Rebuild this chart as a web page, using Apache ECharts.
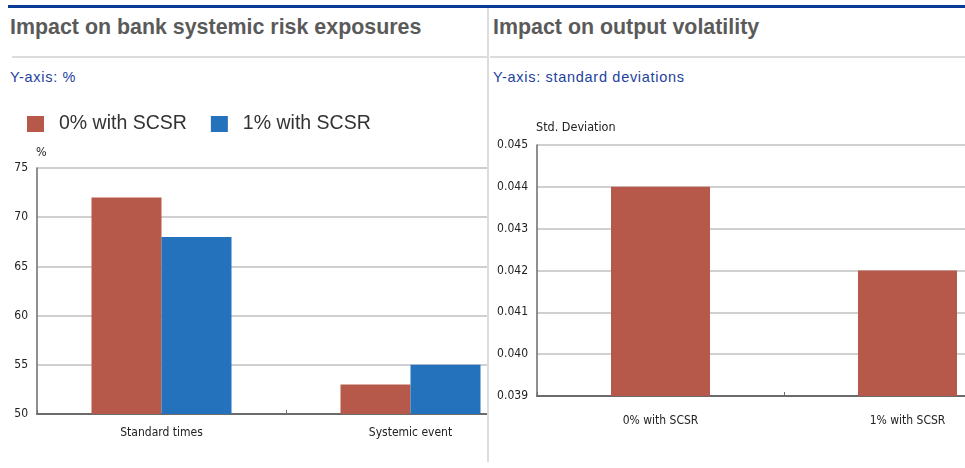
<!DOCTYPE html>
<html>
<head>
<meta charset="utf-8">
<script src="https://cdn.jsdelivr.net/npm/echarts@6/dist/echarts.min.js"></script>
<style>
  body { margin: 0; width: 965px; height: 468px; background: #fff; position: relative; overflow: hidden;
         font-family: "Liberation Sans", Arial, sans-serif; }
  .topline { position: absolute; left: 8px; top: 5px; width: 957px; height: 3px; background: #0b3a96; }
  .divider { position: absolute; left: 487px; top: 8px; width: 2px; height: 454px; background: #dcdcdc; }
  .sep { position: absolute; top: 56px; height: 2px; background: #dcdcdc; }
  .title { position: absolute; top: 15px; font-size: 21.4px; font-weight: bold; color: #5a5a5a; white-space: nowrap; }
  .sub { position: absolute; top: 69px; font-size: 14.5px; letter-spacing: 0.7px; color: #1d3f9e; white-space: nowrap; }
  .panel { position: absolute; top: 90px; height: 378px; overflow: hidden; }
  .chart { width: 560px; height: 378px; }
</style>
</head>
<body>
<div class="topline"></div>
<div class="divider"></div>
<div class="sep" style="left:12px;width:475px"></div>
<div class="sep" style="left:490px;width:475px"></div>
<div class="title" style="left:10px">Impact on bank systemic risk exposures</div>
<div class="title" style="left:493px">Impact on output volatility</div>
<div class="sub" style="left:10px">Y-axis: %</div>
<div class="sub" style="left:493px">Y-axis: standard deviations</div>
<div class="panel" style="left:0;width:487px"><div id="left-chart" class="chart"></div></div>
<div class="panel" style="left:489px;width:476px"><div id="right-chart" class="chart"></div></div>
<script>
// data
const leftCategories = ['Standard times', 'Systemic event'];
const zeroWithSCSR = [72, 53];
const oneWithSCSR = [68, 55];
const rightCategories = ['0% with SCSR', '1% with SCSR'];
const stdDeviation = [0.044, 0.042];

const narrow = '"Liberation Sans Narrow", "DejaVu Sans Condensed", sans-serif';
const red = '#b7594a';
const blue = '#2372bb';

function baseAxes(xMargin) {
  return {
    xAxis: {
      type: 'category',
      axisLine: { lineStyle: { color: '#6b6b6b', width: 2 } },
      axisTick: { show: true, inside: true, length: 4, lineStyle: { color: '#6b6b6b' } },
      axisLabel: { color: '#222', fontSize: 12, fontFamily: narrow, margin: xMargin },
      splitLine: { show: false }
    },
    yAxis: {
      type: 'value',
      nameLocation: 'end',
      nameTextStyle: { color: '#222', fontSize: 12.5, fontFamily: narrow, align: 'left', padding: [0, 0, 0, -1] },
      axisLine: { show: true, lineStyle: { color: '#6b6b6b', width: 1.5 } },
      axisTick: { show: false },
      axisLabel: { color: '#222', fontSize: 12, fontFamily: narrow, margin: 9 },
      splitLine: { lineStyle: { color: '#d0d0d0', width: 2 } }
    }
  };
}

// left: bank systemic risk exposures
let leftChart = echarts.init(document.getElementById('left-chart'));
let la = baseAxes(13);
la.xAxis.data = leftCategories;
Object.assign(la.yAxis, { name: '%', nameGap: 9, min: 50, max: 75, interval: 5 });
leftChart.setOption({
  animation: false,
  grid: { left: 37, top: 78, right: 25, bottom: 54 },
  legend: {
    left: 22, top: 19, itemWidth: 17, itemHeight: 16, itemGap: 24,
    icon: 'rect',
    textStyle: { color: '#333', fontSize: 19.5, padding: [0, 0, 0, 10] },
    data: ['0% with SCSR', '1% with SCSR']
  },
  xAxis: la.xAxis,
  yAxis: la.yAxis,
  series: [
    { name: '0% with SCSR', type: 'bar', data: zeroWithSCSR, barWidth: 70, barGap: '0%', itemStyle: { color: red } },
    { name: '1% with SCSR', type: 'bar', data: oneWithSCSR, barWidth: 70, barGap: '0%', itemStyle: { color: blue } }
  ]
});

// right: output volatility
let rightChart = echarts.init(document.getElementById('right-chart'));
let ra = baseAxes(19);
ra.xAxis.data = rightCategories;
Object.assign(ra.yAxis, {
  name: 'Std. Deviation', nameGap: 11, min: 0.039, max: 0.045, interval: 0.001
});
ra.yAxis.axisLabel.formatter = function (v) { return v.toFixed(3); };
rightChart.setOption({
  animation: false,
  grid: { left: 48, top: 55, right: 18, bottom: 72 },
  xAxis: ra.xAxis,
  yAxis: ra.yAxis,
  series: [
    { name: 'Std. Deviation', type: 'bar', data: stdDeviation, barWidth: 99, itemStyle: { color: red } }
  ]
});
</script>
</body>
</html>
